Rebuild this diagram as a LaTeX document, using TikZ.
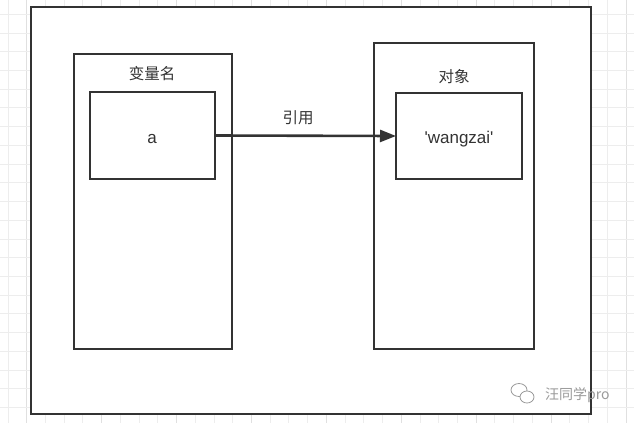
\documentclass[tikz,border=0pt]{standalone}
\usepackage{fontspec}
\setmainfont{Liberation Sans}
\newfontfamily\cjk{Noto Sans CJK SC}
\usetikzlibrary{arrows.meta}
\definecolor{edge}{HTML}{333333}
\definecolor{gridminor}{HTML}{EDEDED}
\definecolor{gridmajor}{HTML}{E0E0E0}
\definecolor{wm}{HTML}{9A9A9A}
\tikzset{
  box/.style={draw=edge, line width=2.6pt, fill=white, anchor=north west, inner sep=0pt, outer sep=0pt},
  cjklabel/.style={font=\cjk\fontsize{15.5}{18}\selectfont, text=edge, inner sep=0pt},
  latlabel/.style={font=\fontsize{17}{20}\selectfont, text=edge, inner sep=0pt, anchor=base},
  link/.style={draw=edge, line width=2.6pt, -{Triangle[length=16pt,width=12pt]}},
}
\begin{document}
\begin{tikzpicture}[x=1pt,y=-1pt]
\useasboundingbox (0,0) rectangle (634,423);
\fill[white] (0,0) rectangle (634,423);
% grid
\foreach \k in {0,...,33} {
  \pgfmathsetmacro{\gx}{8+18.73*\k}
  \pgfmathtruncatemacro{\mj}{mod(\k,4)==1 ? 1 : 0}
  \ifnum\mj=1 \draw[gridmajor, line width=1pt] (\gx,0) -- (\gx,423);
  \else \draw[gridminor, line width=1pt] (\gx,0) -- (\gx,423); \fi
}
\foreach \k in {0,...,22} {
  \pgfmathsetmacro{\gy}{14.27+18.73*\k}
  \draw[gridminor, line width=1pt] (0,\gy) -- (634,\gy);
}
% boxes
\node[box, minimum width=560pt, minimum height=407pt] (outer) at (31,7) {};
\node[box, minimum width=158pt, minimum height=295pt] (lbox) at (74,54) {};
\node[box, minimum width=125pt, minimum height=87pt] (la) at (90,92) {};
\node[box, minimum width=160pt, minimum height=306pt] (rbox) at (374,43) {};
\node[box, minimum width=126pt, minimum height=86pt] (ra) at (396,93) {};
% labels
\node[cjklabel] (lname) at (152,74) {变量名};
\node[cjklabel] (rname) at (454,77) {对象};
\node[latlabel] (atext) at (152,143) {a};
\node[latlabel] (wtext) at (459,143) {\textquotesingle wangzai\textquotesingle};
% connector
\draw[link] (la.east) -- (ra.west);
\node[cjklabel] (ref) at (298,118) {引用};
% watermark
\begin{scope}[wm, line width=0.8pt]
  \draw (519,390) ellipse [x radius=8pt, y radius=6.5pt];
  \draw[fill=white] (527,397) ellipse [x radius=7pt, y radius=6pt];
\end{scope}
\node[font=\cjk\fontsize{14}{16}\selectfont, text=wm, anchor=west, inner sep=0pt] (wmtext) at (545,395) {汪同学pro};
\end{tikzpicture}
\end{document}
